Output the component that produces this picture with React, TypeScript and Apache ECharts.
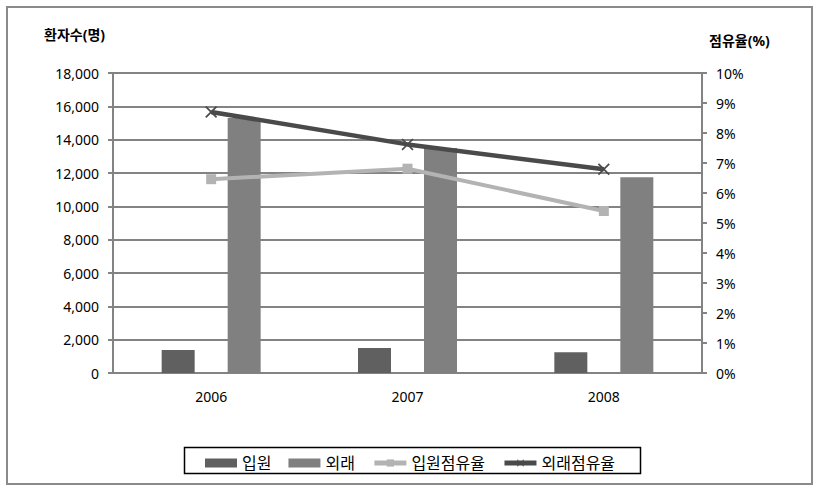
import React, { useEffect, useRef } from "react";
import * as echarts from "echarts";

const categories = ["2006", "2007", "2008"];
const inpatient = [1380, 1500, 1250];
const outpatient = [15300, 13500, 11750];
const inpatientShare = [6.46, 6.81, 5.4];
const outpatientShare = [8.7, 7.62, 6.79];
const leftTicks = { min: 0, max: 18000, interval: 2000 };
const rightTicks = { min: 0, max: 10, interval: 1 };

const FONT = "'Noto Sans', 'Noto Sans CJK KR', sans-serif";
const GRID = "#838383";

export default function App() {
  const ref = useRef<HTMLDivElement>(null);
  useEffect(() => {
    if (!ref.current) return;
    const chart = echarts.init(ref.current, null, { renderer: "svg" });
    const xSymbol =
      "path://M0,1L1,0L5,4L9,0L10,1L6,5L10,9L9,10L5,6L1,10L0,9L4,5Z";
    chart.setOption({
      animation: false,
      backgroundColor: "#fff",
      textStyle: { fontFamily: FONT },
      grid: { left: 113, top: 73, width: 589, height: 300, containLabel: false },
      xAxis: {
        type: "category",
        data: categories,
        boundaryGap: true,
        axisLine: { show: true, lineStyle: { color: GRID, width: 2 } },
        axisTick: { show: false },
        axisLabel: { color: "#000", fontSize: 14, margin: 16, fontFamily: FONT },
      },
      yAxis: [
        {
          type: "value",
          min: leftTicks.min,
          max: leftTicks.max,
          interval: leftTicks.interval,
          axisLine: { show: true, lineStyle: { color: GRID, width: 2 } },
          axisTick: { show: true, length: 5, lineStyle: { color: GRID, width: 2 } },
          splitLine: { show: true, lineStyle: { color: GRID, width: 2 } },
          axisLabel: {
            color: "#000",
            fontSize: 14,
            margin: 14,
            fontFamily: FONT,
            formatter: (v: number) => v.toLocaleString("en-US"),
          },
        },
        {
          type: "value",
          position: "right",
          min: rightTicks.min,
          max: rightTicks.max,
          interval: rightTicks.interval,
          axisLine: { show: true, lineStyle: { color: GRID, width: 2 } },
          axisTick: { show: true, length: 5, lineStyle: { color: GRID, width: 2 } },
          splitLine: { show: false },
          axisLabel: {
            color: "#000",
            fontSize: 14,
            margin: 14,
            fontFamily: FONT,
            formatter: "{value}%",
          },
        },
      ],
      legend: {
        left: 200,
        top: 450,
        itemWidth: 32,
        itemHeight: 9,
        itemGap: 17,
        textStyle: { fontSize: 16, color: "#000", fontFamily: FONT, padding: [5, 0, 0, 0] },
        data: [
          { name: "입원", icon: "rect" },
          { name: "외래", icon: "rect" },
          { name: "입원점유율", lineStyle: { width: 5 } },
          { name: "외래점유율", lineStyle: { width: 5 } },
        ],
      },
      graphic: [
        {
          type: "rect",
          shape: { x: 7, y: 7, width: 805, height: 477 },
          style: { fill: "none", stroke: "#8a8a8a", lineWidth: 2 },
          silent: true,
        },
        {
          type: "rect",
          shape: { x: 184.5, y: 447.5, width: 456, height: 26 },
          style: { fill: "none", stroke: "#000", lineWidth: 1.5 },
          silent: true,
        },
        {
          type: "text",
          left: 44,
          top: 27,
          style: { text: "환자수(명)", font: `bold 14px ${FONT}`, fill: "#000" },
        },
        {
          type: "text",
          left: 709,
          top: 33,
          style: { text: "점유율(%)", font: `bold 14px ${FONT}`, fill: "#000" },
        },
      ],
      series: [
        {
          name: "입원",
          type: "bar",
          data: inpatient,
          barWidth: 33,
          barGap: "100%",
          itemStyle: { color: "#606060" },
        },
        {
          name: "외래",
          type: "bar",
          data: outpatient,
          barWidth: 33,
          barGap: "100%",
          itemStyle: { color: "#808080" },
        },
        {
          name: "입원점유율",
          type: "line",
          yAxisIndex: 1,
          data: inpatientShare,
          symbol: "rect",
          symbolSize: 10,
          lineStyle: { color: "#b3b3b3", width: 4 },
          itemStyle: { color: "#b3b3b3" },
          z: 3,
        },
        {
          name: "외래점유율",
          type: "line",
          yAxisIndex: 1,
          data: outpatientShare,
          symbol: xSymbol,
          symbolSize: 12,
          lineStyle: { color: "#4a4a4a", width: 4.5 },
          itemStyle: { color: "#4a4a4a" },
          z: 4,
        },
      ],
    });
    return () => chart.dispose();
  }, []);
  return (
    <div
      ref={ref}
      style={{ position: "fixed", left: 0, top: 0, width: 826, height: 490, background: "#fff" }}
    />
  );
}
